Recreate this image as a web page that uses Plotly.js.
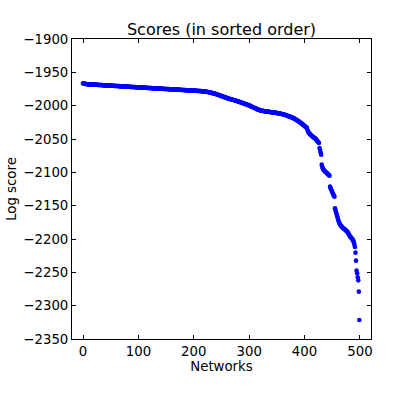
<!DOCTYPE html>
<html>
<head>
<meta charset="utf-8">
<script src="https://cdn.plot.ly/plotly-3.0.1.min.js"></script>
<style>
  html, body { margin: 0; padding: 0; background: #fff; }
  #plot { width: 400px; height: 400px; }
</style>
</head>
<body>
<div id="plot"></div>
<script>
// Log-Scores der Netzwerke, absteigend sortiert
const scores = [
  -1966.5, -1966.8, -1967.0, -1967.2, -1967.4, -1967.5, -1967.6, -1967.7, -1967.8, -1967.9,
  -1968.0, -1968.0, -1968.1, -1968.1, -1968.2, -1968.2, -1968.3, -1968.3, -1968.4, -1968.4,
  -1968.5, -1968.5, -1968.6, -1968.6, -1968.7, -1968.7, -1968.8, -1968.8, -1968.9, -1968.9,
  -1969.0, -1969.0, -1969.1, -1969.1, -1969.2, -1969.2, -1969.3, -1969.3, -1969.4, -1969.4,
  -1969.5, -1969.5, -1969.6, -1969.6, -1969.7, -1969.7, -1969.8, -1969.8, -1969.9, -1969.9,
  -1970.0, -1970.0, -1970.1, -1970.1, -1970.2, -1970.2, -1970.3, -1970.3, -1970.4, -1970.4,
  -1970.5, -1970.5, -1970.6, -1970.6, -1970.7, -1970.7, -1970.8, -1970.8, -1970.9, -1970.9,
  -1971.0, -1971.1, -1971.1, -1971.2, -1971.2, -1971.3, -1971.3, -1971.4, -1971.4, -1971.5,
  -1971.5, -1971.6, -1971.6, -1971.7, -1971.7, -1971.8, -1971.8, -1971.9, -1971.9, -1972.0,
  -1972.0, -1972.1, -1972.1, -1972.2, -1972.2, -1972.3, -1972.3, -1972.4, -1972.4, -1972.5,
  -1972.5, -1972.6, -1972.6, -1972.7, -1972.7, -1972.8, -1972.8, -1972.9, -1972.9, -1973.0,
  -1973.0, -1973.1, -1973.1, -1973.2, -1973.2, -1973.3, -1973.3, -1973.4, -1973.4, -1973.5,
  -1973.5, -1973.6, -1973.6, -1973.7, -1973.7, -1973.8, -1973.8, -1973.9, -1973.9, -1974.0,
  -1974.0, -1974.1, -1974.1, -1974.2, -1974.2, -1974.3, -1974.3, -1974.4, -1974.4, -1974.5,
  -1974.5, -1974.6, -1974.6, -1974.7, -1974.7, -1974.8, -1974.8, -1974.9, -1974.9, -1975.0,
  -1975.0, -1975.0, -1975.1, -1975.1, -1975.2, -1975.2, -1975.3, -1975.3, -1975.4, -1975.4,
  -1975.5, -1975.5, -1975.6, -1975.6, -1975.7, -1975.7, -1975.8, -1975.8, -1975.9, -1975.9,
  -1976.0, -1976.0, -1976.1, -1976.1, -1976.2, -1976.2, -1976.3, -1976.3, -1976.4, -1976.4,
  -1976.5, -1976.5, -1976.6, -1976.6, -1976.7, -1976.7, -1976.8, -1976.8, -1976.9, -1976.9,
  -1977.0, -1977.0, -1977.1, -1977.1, -1977.2, -1977.2, -1977.3, -1977.3, -1977.4, -1977.4,
  -1977.5, -1977.5, -1977.6, -1977.6, -1977.7, -1977.7, -1977.8, -1977.8, -1977.9, -1977.9,
  -1978.0, -1978.0, -1978.1, -1978.2, -1978.3, -1978.4, -1978.5, -1978.6, -1978.7, -1978.8,
  -1978.9, -1979.0, -1979.1, -1979.2, -1979.3, -1979.4, -1979.6, -1979.8, -1980.0, -1980.2,
  -1980.4, -1980.6, -1980.8, -1981.0, -1981.2, -1981.4, -1981.6, -1981.8, -1982.0, -1982.3,
  -1982.6, -1982.9, -1983.2, -1983.5, -1983.8, -1984.1, -1984.4, -1984.7, -1985.0, -1985.3,
  -1985.6, -1985.9, -1986.2, -1986.5, -1986.8, -1987.1, -1987.4, -1987.7, -1988.0, -1988.3,
  -1988.6, -1988.9, -1989.1, -1989.4, -1989.6, -1989.9, -1990.1, -1990.4, -1990.6, -1990.9,
  -1991.1, -1991.4, -1991.6, -1991.9, -1992.1, -1992.4, -1992.6, -1992.9, -1993.1, -1993.4,
  -1993.6, -1993.9, -1994.2, -1994.5, -1994.8, -1995.1, -1995.4, -1995.7, -1996.0, -1996.3,
  -1996.6, -1996.9, -1997.2, -1997.5, -1997.8, -1998.1, -1998.4, -1998.7, -1999.0, -1999.3,
  -1999.6, -2000.0, -2000.4, -2000.8, -2001.2, -2001.6, -2002.0, -2002.4, -2002.8, -2003.2,
  -2003.6, -2004.0, -2004.4, -2004.8, -2005.2, -2005.5, -2005.8, -2006.1, -2006.4, -2006.7,
  -2007.0, -2007.2, -2007.4, -2007.6, -2007.8, -2008.0, -2008.1, -2008.2, -2008.4, -2008.5,
  -2008.6, -2008.7, -2008.8, -2009.0, -2009.1, -2009.2, -2009.3, -2009.5, -2009.6, -2009.7,
  -2009.8, -2009.9, -2010.0, -2010.1, -2010.2, -2010.3, -2010.4, -2010.5, -2010.7, -2010.9,
  -2011.0, -2011.2, -2011.3, -2011.5, -2011.7, -2011.8, -2012.0, -2012.2, -2012.4, -2012.6,
  -2012.7, -2012.9, -2013.1, -2013.3, -2013.6, -2013.9, -2014.2, -2014.5, -2014.8, -2015.1,
  -2015.4, -2015.7, -2016.0, -2016.3, -2016.6, -2016.9, -2017.2, -2017.6, -2018.0, -2018.4,
  -2018.8, -2019.2, -2019.7, -2020.2, -2020.7, -2021.2, -2021.7, -2022.2, -2022.8, -2023.4,
  -2024.0, -2024.6, -2025.2, -2025.8, -2026.4, -2027.0, -2027.7, -2028.4, -2029.1, -2029.8,
  -2030.5, -2031.2, -2031.9, -2032.5, -2033.0, -2035.5, -2038.0, -2040.0, -2041.0, -2042.0,
  -2042.8, -2043.6, -2044.4, -2045.2, -2046.0, -2046.6, -2047.2, -2047.8, -2048.4, -2049.0,
  -2050.0, -2051.0, -2052.0, -2053.0, -2054.0, -2055.0, -2056.0, -2063.5, -2066.5, -2070.0,
  -2073.5, -2088.5, -2091.5, -2094.0, -2096.0, -2097.0, -2097.8, -2098.6, -2099.4, -2100.2,
  -2101.0, -2101.8, -2102.6, -2103.4, -2104.2, -2105.0, -2121.5, -2123.5, -2125.5, -2127.5,
  -2129.5, -2131.5, -2133.5, -2135.0, -2136.5, -2154.0, -2157.0, -2160.0, -2163.0, -2166.0,
  -2169.0, -2172.0, -2174.5, -2176.5, -2178.0, -2179.5, -2180.5, -2181.5, -2182.5, -2183.5,
  -2184.0, -2184.5, -2185.0, -2185.8, -2186.6, -2187.4, -2188.2, -2189.0, -2190.0, -2191.5,
  -2193.0, -2194.5, -2196.0, -2197.0, -2198.0, -2199.0, -2200.0, -2201.0, -2202.5, -2205.0,
  -2208.5, -2212.0, -2220.5, -2232.5, -2247.5, -2251.5, -2257.5, -2262.0, -2279.0, -2321.5
];

// Achsenbeschriftung
const xTicks = [0, 100, 200, 300, 400, 500];
const yTicks = [-1900, -1950, -2000, -2050, -2100, -2150, -2200, -2250, -2300, -2350];
const yTickText = ["\u22121900", "\u22121950", "\u22122000", "\u22122050", "\u22122100",
                   "\u22122150", "\u22122200", "\u22122250", "\u22122300", "\u22122350"];

const networks = scores.map((s, i) => i);

const font = { family: "DejaVu Sans, sans-serif", size: 13.3, color: "#000" };

const trace = {
  x: networks,
  y: scores,
  type: "scatter",
  mode: "markers",
  marker: { size: 4.6, color: "#0000ff", line: { width: 0 } },
  hoverinfo: "none",
};

const achse = {
  showline: true,
  linecolor: "#000",
  linewidth: 1,
  mirror: "ticks",
  ticks: "inside",
  ticklen: 4,
  tickcolor: "#000",
  showgrid: false,
  zeroline: false,
  tickfont: font,
};

const layout = {
  width: 400,
  height: 400,
  paper_bgcolor: "#fff",
  plot_bgcolor: "#fff",
  font: font,
  showlegend: false,
  margin: { l: 72, r: 29, t: 39, b: 61 },
  title: {
    text: "Scores (in sorted order)",
    font: { family: "DejaVu Sans, sans-serif", size: 16, color: "#000" },
    xref: "paper",
    x: 0.5,
    xanchor: "center",
    yref: "container",
    y: 1 - 29 / 400,
    yanchor: "middle",
  },
  xaxis: {
    ...achse,
    range: [-20, 520],
    tickmode: "array",
    tickvals: xTicks,
    title: { text: "Networks", font: font, standoff: 3 },
  },
  yaxis: {
    ...achse,
    range: [-2350, -1900],
    tickmode: "array",
    tickvals: yTicks,
    ticktext: yTickText,
    title: { text: "Log score", font: font, standoff: 3 },
  },
};

Plotly.newPlot("plot", [trace], layout, { staticPlot: true });
</script>
</body>
</html>
